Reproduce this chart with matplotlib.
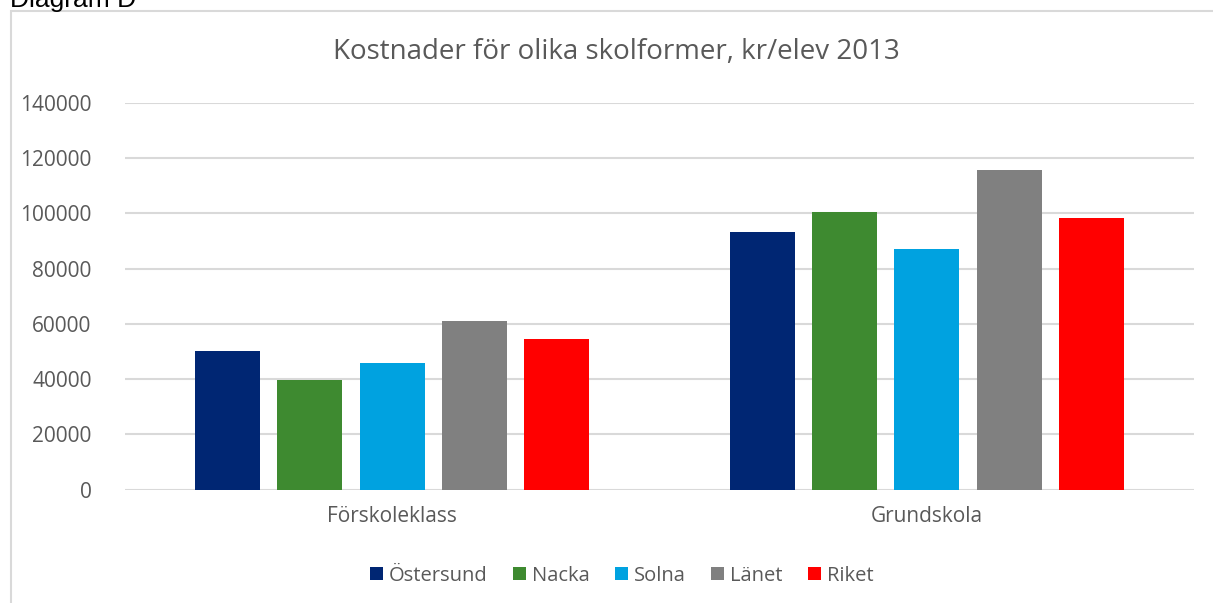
import numpy as np
import matplotlib.pyplot as plt
from matplotlib.patches import Rectangle

# data
kategorier = ["Förskoleklass", "Grundskola"]
serier = ["Östersund", "Nacka", "Solna", "Länet", "Riket"]
ostersund = [50200, 93400]
nacka = [39700, 100400]
solna = [45900, 87100]
lanet = [61100, 115900]
riket = [54500, 98300]
farger = ["#002673", "#3E8A30", "#00A2E0", "#808080", "#FF0000"]

plt.rcParams['font.family'] = ['Open Sans', 'DejaVu Sans']

fig = plt.figure(figsize=(12.13, 6.03), dpi=100)
ax = fig.add_axes([125 / 1213, 1 - 489.7 / 603, (1194 - 125) / 1213, (489.7 - 103) / 603])

varden = [ostersund, nacka, solna, lanet, riket]
x = np.arange(len(kategorier))
steg = 0.154
bredd = 0.1216
for i, (namn, v, c) in enumerate(zip(serier, varden, farger)):
    ax.bar(x + (i - 2) * steg, v, width=bredd, color=c, label=namn, zorder=3)

ax.set_xlim(-0.5, 1.5)
ax.set_ylim(0, 140000)
ax.set_yticks(range(0, 140001, 20000))
ax.set_xticks(x)
ax.set_xticklabels(kategorier)
ax.grid(axis='y', color='#d9d9d9', linewidth=1.5, zorder=0)
for s in ax.spines.values():
    s.set_visible(False)
ax.tick_params(axis='both', length=0, labelsize=15, colors='#595959')
ax.tick_params(axis='y', pad=24)
ax.tick_params(axis='x', pad=12)

fig.text(616 / 1213, 1 - 52 / 603, "Kostnader för olika skolformer, kr/elev 2013",
         ha='center', va='center', fontsize=20, color='#595959')

ax.legend(loc='center', bbox_to_anchor=(0.4645, -0.222), ncol=5, frameon=False,
          fontsize=14.5, handlelength=0.65, handleheight=0.65, handletextpad=0.3,
          columnspacing=1.25, labelcolor='#595959')

# border of the chart box and the cut-off caption
fig.patches.append(Rectangle((10.5 / 1213, -0.1), 1.2, 1 - 10.5 / 603 + 0.1,
                             transform=fig.transFigure, fill=False,
                             edgecolor='#d9d9d9', linewidth=1.5))
fig.text(10 / 1213, 1 - 7 / 603, "Diagram D", ha='left', va='baseline',
         fontsize=19, color='black', family='Liberation Sans')

fig.savefig("out.png", dpi=100, facecolor='white')
